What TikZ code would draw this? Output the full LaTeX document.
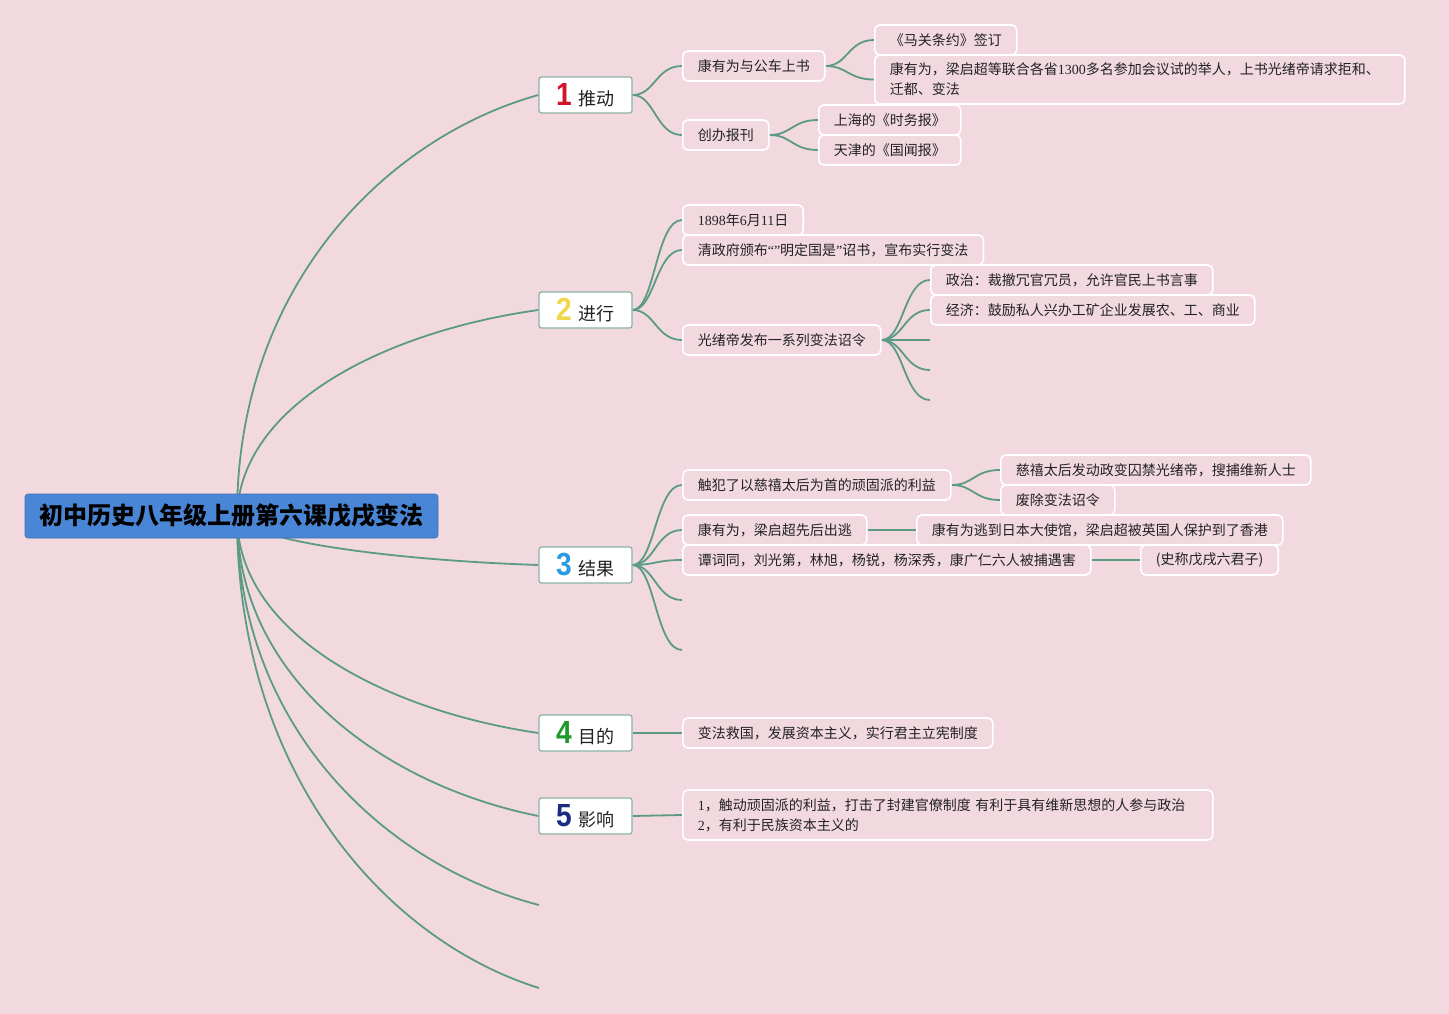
\documentclass[tikz,border=0pt]{standalone}
\usepackage{fontspec}
\setmainfont{Noto Sans CJK SC}
\newfontfamily\serifd{Liberation Serif}
\newfontfamily\numf{Liberation Sans}
\definecolor{bgpink}{HTML}{F2D9E0}
\definecolor{rootblue}{HTML}{4A86D6}
\definecolor{conncol}{HTML}{5B9A83}
\definecolor{topicborder}{HTML}{8DB3A2}
\definecolor{txt}{HTML}{222222}
\definecolor{nred}{HTML}{D3132B}
\definecolor{nyellow}{HTML}{F1D64A}
\definecolor{nblue}{HTML}{2B9BE0}
\definecolor{ngreen}{HTML}{1E9A2C}
\definecolor{nnavy}{HTML}{1B2A82}
\newcommand{\dg}[1]{{\serifd #1}}
\newcommand{\bignum}[2]{\textcolor{#1}{\scalebox{0.88}[1]{\numf\bfseries\fontsize{32}{32}\selectfont #2}}\hspace{7pt}}
\pgfdeclarelayer{bgl}
\pgfdeclarelayer{conl}
\pgfsetlayers{bgl,conl,main}
\tikzset{
  rootbox/.style={fill=rootblue, draw=rootblue!85!black, line width=0.6, rounded corners=3, minimum width=413, minimum height=44, inner sep=0, font=\fontsize{24}{28}\selectfont\bfseries, text=black},
  topicbox/.style={draw=topicborder, line width=1.3, fill=white, rounded corners=2.5, minimum width=93, minimum height=36, inner sep=0, font=\fontsize{18}{20}\selectfont, text=txt},
  subbox/.style={draw=white, line width=1.6, fill=bgpink, rounded corners=5, anchor=west, minimum height=30, inner xsep=15, inner ysep=5, font=\fontsize{14}{20}\selectfont, align=left, text=txt},
  conn/.style={draw=conncol, line width=1.8},
}
\begin{document}
\begin{tikzpicture}[x=1pt,y=-1pt]
\begin{pgfonlayer}{bgl}
\fill[bgpink] (0,0) rectangle (1449,1014);
\end{pgfonlayer}
\useasboundingbox (0,0) rectangle (1449,1014);

% root and topics
\node[rootbox] (root) at (231.5,516) {初中历史八年级上册第六课戊戌变法};
\coordinate (o) at (237,516);
\node[topicbox] (t1) at (585.5,95) {\bignum{nred}{1}推动};
\node[topicbox] (t2) at (585.5,310) {\bignum{nyellow}{2}进行};
\node[topicbox] (t3) at (585.5,565) {\bignum{nblue}{3}结果};
\node[topicbox] (t4) at (585.5,733) {\bignum{ngreen}{4}目的};
\node[topicbox] (t5) at (585.5,816) {\bignum{nnavy}{5}影响};
\coordinate (t6) at (539,905);
\coordinate (t7) at (539,988);

% branch 1
\node[subbox] (a1) at (682,66) {康有为与公车上书};
\node[subbox] (a2) at (682,135) {创办报刊};
\node[subbox] (a11) at (874,40) {《马关条约》签订};
\node[subbox, minimum height=49, text width=500] (a12) at (874,79.5) {康有为，梁启超等联合各省\dg{1300}多名参加会议试的举人，上书光绪帝请求拒和、\\迁都、变法};
\node[subbox] (a21) at (818,120) {上海的《时务报》};
\node[subbox] (a22) at (818,150) {天津的《国闻报》};

% branch 2
\node[subbox] (b1) at (682,220) {\dg{1898}年\dg{6}月\dg{11}日};
\node[subbox] (b2) at (682,250) {清政府颁布\dg{“”}明定国是\dg{”}诏书，宣布实行变法};
\node[subbox] (b3) at (682,340) {光绪帝发布一系列变法诏令};
\node[subbox] (b31) at (930,280) {政治：裁撤冗官冗员，允许官民上书言事};
\node[subbox] (b32) at (930,310) {经济：鼓励私人兴办工矿企业发展农、工、商业};
\coordinate (b33) at (930,340);
\coordinate (b34) at (930,370);
\coordinate (b35) at (930,400);

% branch 3
\node[subbox] (c1) at (682,485) {触犯了以慈禧太后为首的顽固派的利益};
\node[subbox] (c2) at (682,530) {康有为，梁启超先后出逃};
\node[subbox] (c3) at (682,560) {谭词同，刘光第，林旭，杨锐，杨深秀，康广仁六人被捕遇害};
\coordinate (c4) at (682,600);
\coordinate (c5) at (682,650);
\node[subbox] (c11) at (1000,470) {慈禧太后发动政变囚禁光绪帝，搜捕维新人士};
\node[subbox] (c12) at (1000,500) {废除变法诏令};
\node[subbox] (c21) at (916,530) {康有为逃到日本大使馆，梁启超被英国人保护到了香港};
\node[subbox] (c31) at (1140,560) {(史称戊戌六君子)};

% branch 4, 5
\node[subbox] (d1) at (682,733) {变法救国，发展资本主义，实行君主立宪制度};
\node[subbox, text width=500, minimum height=50] (e1) at (682,815) {\dg{1}，触动顽固派的利益，打击了封建官僚制度 有利于具有维新思想的人参与政治\\\dg{2}，有利于民族资本主义的};

\begin{pgfonlayer}{conl}
% root curves
\draw[conn] (o) .. controls (237,284) and (388,137) .. (t1.west);
\draw[conn] (o) .. controls (240,403) and (388,331) .. (t2.west);
\draw[conn] (o) .. controls (245,540) and (388,560) .. (t3.west);
\draw[conn] (o) .. controls (237,635) and (388,711) .. (t4.west);
\draw[conn] (o) .. controls (237,681) and (388,786) .. (t5.west);
\draw[conn] (o) .. controls (237,730) and (388,866) .. (t6);
\draw[conn] (o) .. controls (237,776) and (388,941) .. (t7);
% branch 1
\foreach \s/\e in {t1/a1,t1/a2,a1/a11,a1/a12,a2/a21,a2/a22}
  \draw[conn] (\s.east) .. controls +(22,0) and +(-26,0) .. (\e.west);
% branch 2
\foreach \s/\e in {t2/b1,t2/b2,t2/b3,b3/b31,b3/b32}
  \draw[conn] (\s.east) .. controls +(22,0) and +(-26,0) .. (\e.west);
\foreach \e in {b33,b34,b35}
  \draw[conn] (b3.east) .. controls +(22,0) and +(-26,0) .. (\e);
% branch 3
\foreach \s/\e in {t3/c1,t3/c2,t3/c3,c1/c11,c1/c12}
  \draw[conn] (\s.east) .. controls +(22,0) and +(-26,0) .. (\e.west);
\foreach \e in {c4,c5}
  \draw[conn] (t3.east) .. controls +(22,0) and +(-26,0) .. (\e);
\draw[conn] (c2.east) -- (c21.west);
\draw[conn] (c3.east) -- (c31.west);
\draw[conn] (t4.east) -- (d1.west);
\draw[conn] (t5.east) -- (e1.west);
\end{pgfonlayer}
\end{tikzpicture}
\end{document}
